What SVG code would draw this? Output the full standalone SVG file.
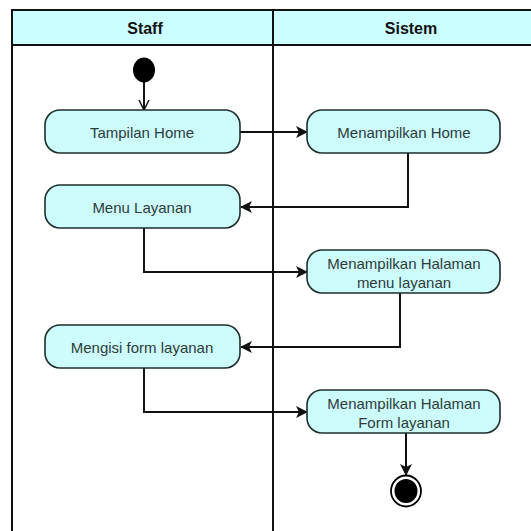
<svg xmlns="http://www.w3.org/2000/svg" width="531" height="531" viewBox="0 0 531 531">
<style>
.lane{fill:#ffffff;stroke:#111;stroke-width:2}
.hdr{fill:#ccffff;stroke:#111;stroke-width:2}
.ht{font-family:"Liberation Sans",Arial,sans-serif;font-size:16px;font-weight:bold;fill:#111;text-anchor:middle}
.act{fill:#ccfcfc;stroke:#1e2e2e;stroke-width:1.6}
.t{font-family:"Liberation Sans",Arial,sans-serif;font-size:15px;fill:#2e3b3b;text-anchor:middle}
.c{fill:none;stroke:#111;stroke-width:2}
</style>
<defs>
<marker id="arr" viewBox="0 0 12 12" refX="11" refY="6" markerWidth="12" markerHeight="12" markerUnits="userSpaceOnUse" orient="auto">
<path d="M0,0 L12,6 L0,12 L3,6 Z" fill="#111"/>
</marker>
<marker id="open" viewBox="0 0 12 12" refX="11" refY="6" markerWidth="12" markerHeight="12" markerUnits="userSpaceOnUse" orient="auto">
<path d="M1,1 L11,6 L1,11" fill="none" stroke="#111" stroke-width="1.5"/>
</marker>
</defs>
<g id="pool">
<rect class="lane" x="12" y="10" width="525" height="530"/>
<rect class="hdr" x="12" y="10" width="525" height="35"/>
<line x1="273" y1="10" x2="273" y2="531" stroke="#111" stroke-width="2"/>
<text class="ht" x="145" y="34">Staff</text>
<text class="ht" x="411" y="34">Sistem</text>
</g>
<g id="connectors">
<line class="c" x1="144" y1="82" x2="144" y2="110" marker-end="url(#open)"/>
<line class="c" x1="240" y1="132" x2="307" y2="132" marker-end="url(#arr)"/>
<polyline class="c" points="408,153 408,207 241,207" marker-end="url(#arr)"/>
<polyline class="c" points="144,228 144,272 307,272" marker-end="url(#arr)"/>
<polyline class="c" points="400,293 400,347 241,347" marker-end="url(#arr)"/>
<polyline class="c" points="144,368 144,412 307,412" marker-end="url(#arr)"/>
<line class="c" x1="406" y1="433" x2="406" y2="475" marker-end="url(#arr)"/>
</g>
<g id="start">
<ellipse cx="144" cy="70" rx="11" ry="12.5" fill="#000"/>
</g>
<g id="tampilan-home">
<rect class="act" x="45" y="110" width="195" height="43" rx="15"/>
<text class="t" x="142" y="137.5">Tampilan Home</text>
</g>
<g id="menampilkan-home">
<rect class="act" x="307" y="110" width="193" height="43" rx="15"/>
<text class="t" x="404" y="137.5">Menampilkan Home</text>
</g>
<g id="menu-layanan">
<rect class="act" x="45" y="185" width="195" height="43" rx="15"/>
<text class="t" x="142" y="212.5">Menu Layanan</text>
</g>
<g id="menampilkan-menu">
<rect class="act" x="307" y="250" width="193" height="43" rx="15"/>
<text class="t" x="404" y="268.5">Menampilkan Halaman</text>
<text class="t" x="404" y="287.5">menu layanan</text>
</g>
<g id="mengisi-form">
<rect class="act" x="45" y="325" width="195" height="43" rx="15"/>
<text class="t" x="142" y="352.5">Mengisi form layanan</text>
</g>
<g id="menampilkan-form">
<rect class="act" x="307" y="390" width="193" height="43" rx="15"/>
<text class="t" x="404" y="408.5">Menampilkan Halaman</text>
<text class="t" x="404" y="427.5">Form layanan</text>
</g>
<g id="end">
<ellipse cx="406" cy="491" rx="15" ry="15.5" fill="#fff" stroke="#000" stroke-width="1.8"/>
<ellipse cx="406" cy="491" rx="11.5" ry="12" fill="#000"/>
</g>
</svg>
